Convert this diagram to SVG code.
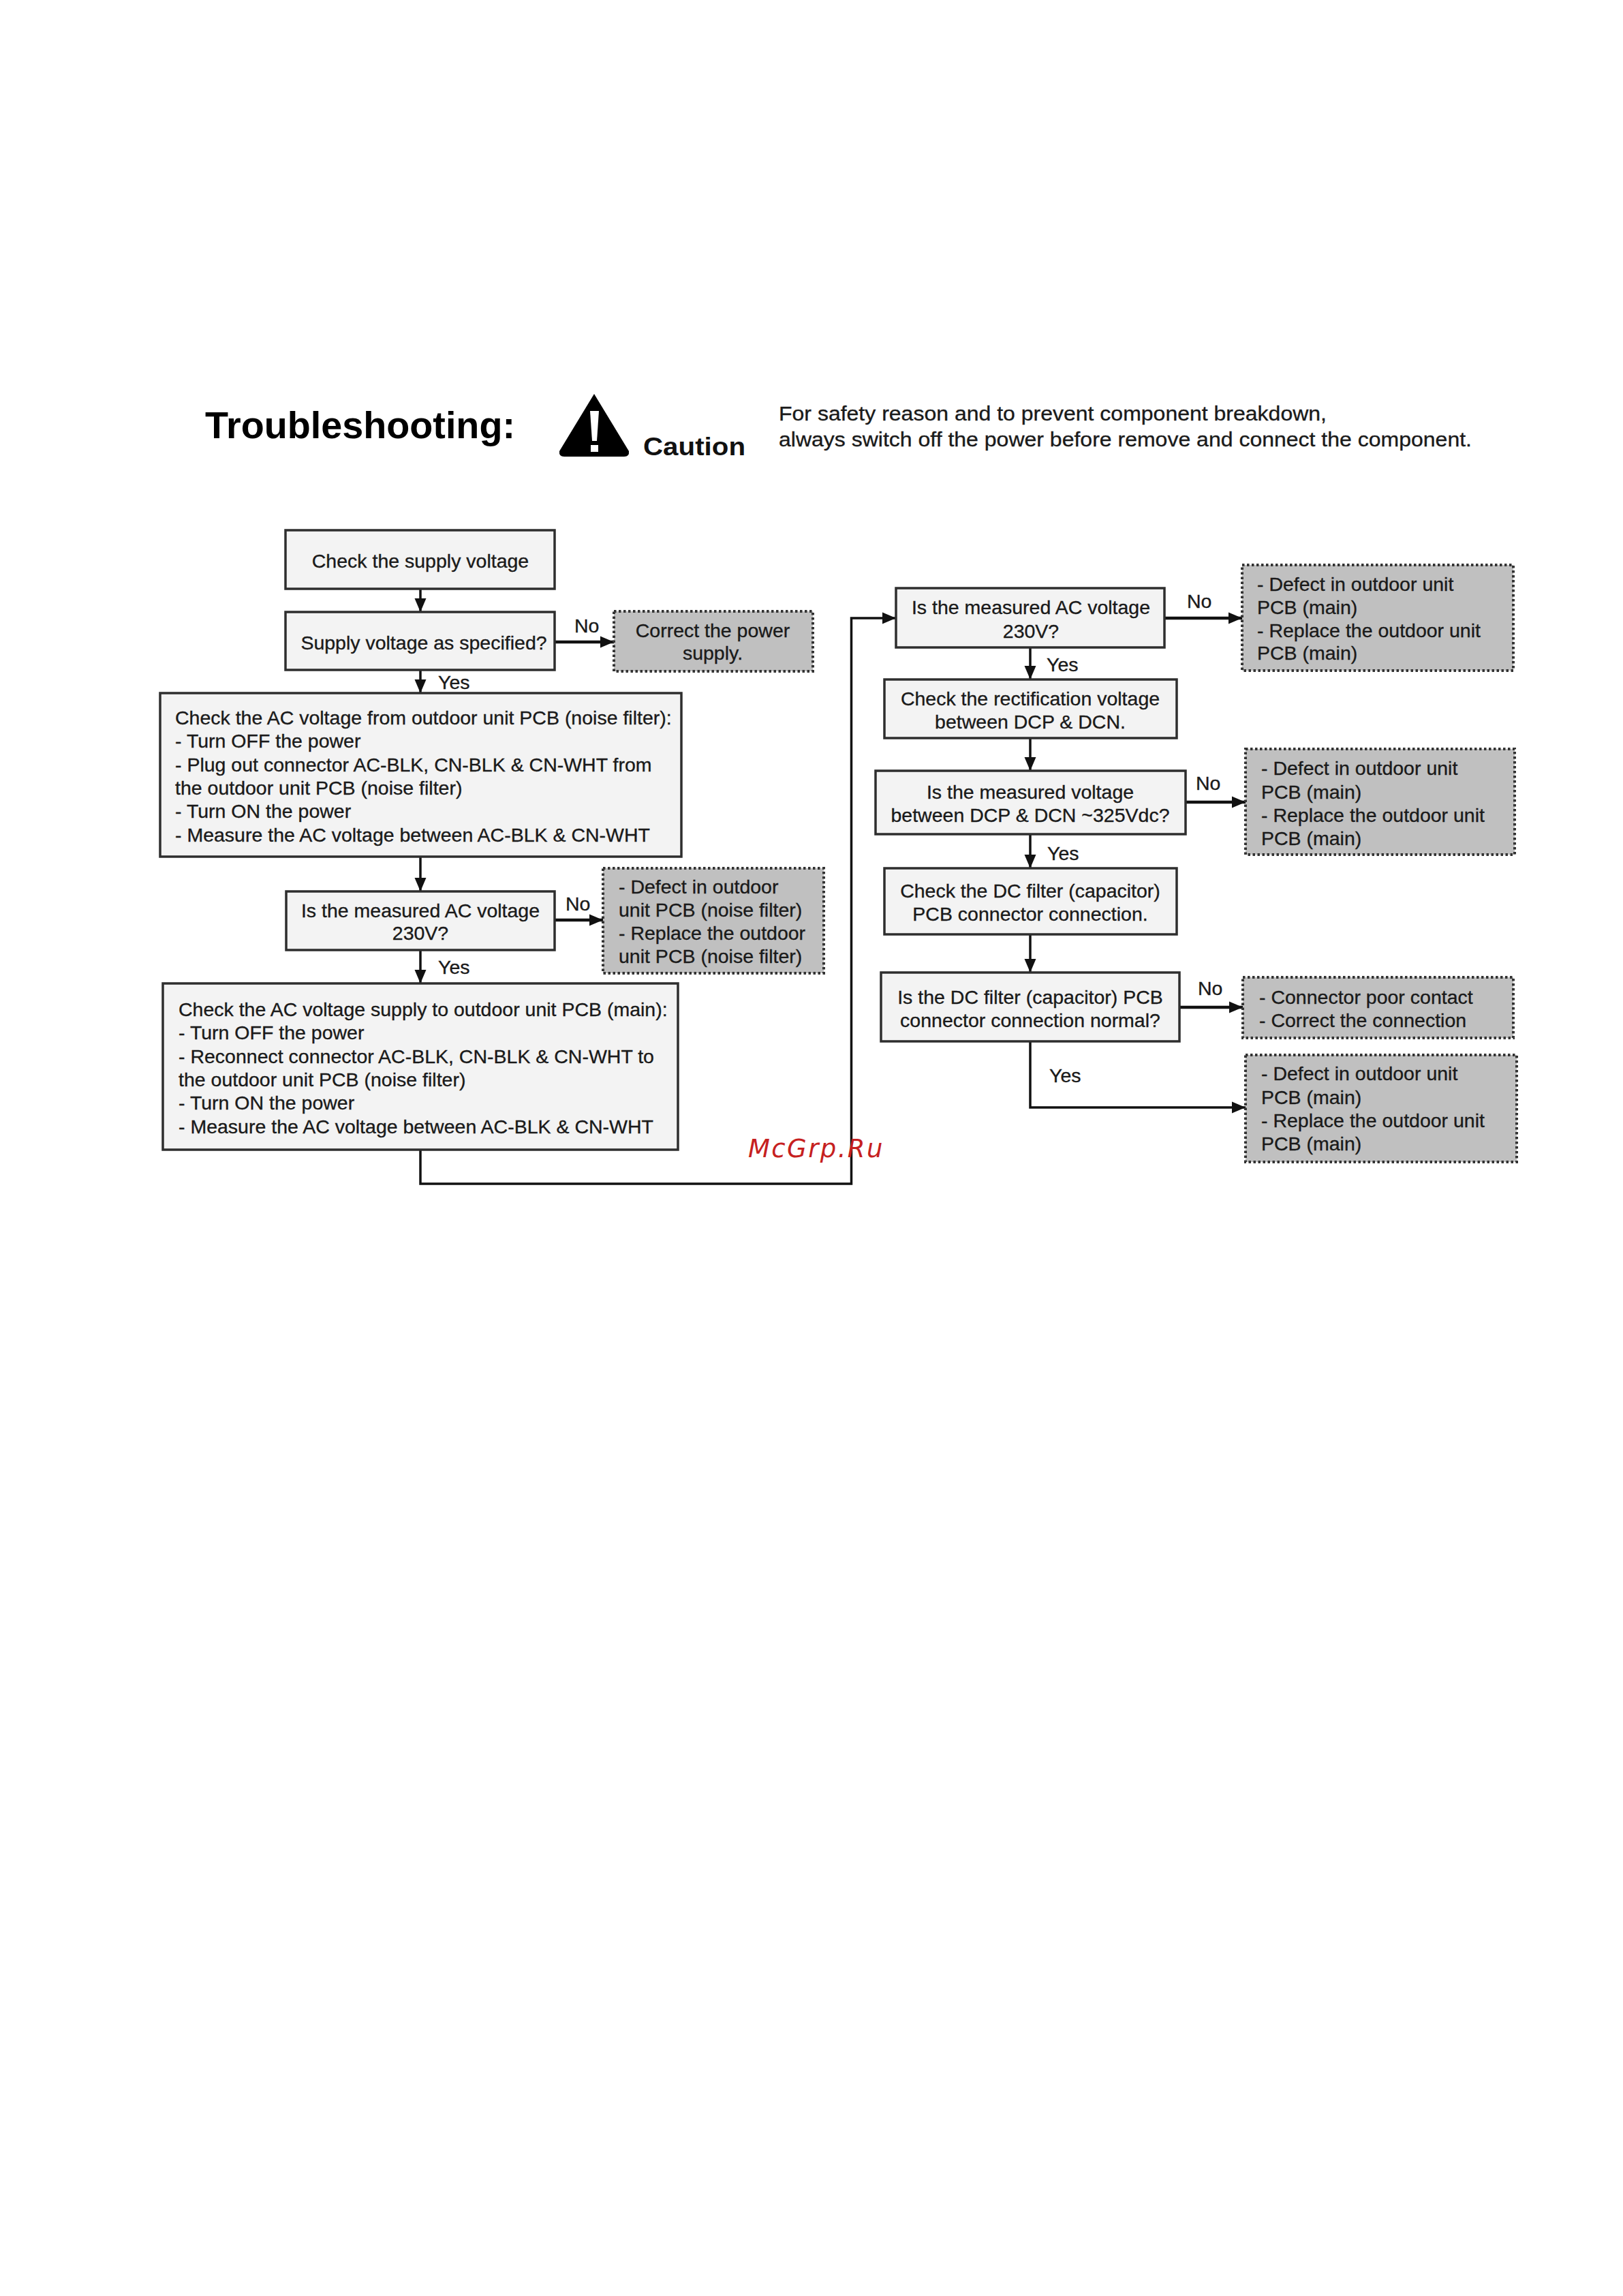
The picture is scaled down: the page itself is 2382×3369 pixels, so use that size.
<svg xmlns="http://www.w3.org/2000/svg" width="2382" height="3369" viewBox="0 0 2382 3369">
<style>
text{font-family:"Liberation Sans",Arial,sans-serif;font-size:28.5px;fill:#1a1a1a;stroke:#1a1a1a;stroke-width:.35}
.c{text-anchor:middle}
.box{fill:#f3f3f3;stroke:#2e2e2e;stroke-width:3.5}
.end{fill:#c0c0c0;stroke:#333;stroke-width:4;stroke-dasharray:3.5 3.5}
.conn{fill:none;stroke:#111;stroke-width:3.5}
.h{stroke-width:4.5}
text.title{font-size:56px;font-weight:bold;fill:#000;stroke:none}
text.caution{font-size:36px;font-weight:bold;fill:#111;stroke:none}
text.note{font-size:30px}
text.wm{font-family:"DejaVu Sans",sans-serif;font-style:italic;font-size:37px;fill:#c62020;stroke:none;letter-spacing:2.4px}
</style>
<defs>
<marker id="a" markerUnits="userSpaceOnUse" markerWidth="22" markerHeight="20" refX="20" refY="10" orient="auto">
<path d="M0 1.5L20 10L0 18.5z" fill="#111"/>
</marker>
</defs>
<rect width="2382" height="3369" fill="#fff"/>
<g id="header">
<text class="title" x="301" y="643" textLength="455" lengthAdjust="spacingAndGlyphs">Troubleshooting:</text>
<path d="M872 578L923 662Q924 670 916 670H828Q820 670 821 662z" fill="#000"/>
<path d="M866 603H879L876 647H869z" fill="#fff"/>
<rect x="867" y="653" width="11" height="10" fill="#fff"/>
<text class="caution" x="944" y="668" textLength="150" lengthAdjust="spacingAndGlyphs">Caution</text>
<text class="note" x="1143" y="617" textLength="804" lengthAdjust="spacingAndGlyphs">For safety reason and to prevent component breakdown,</text>
<text class="note" x="1143" y="655" textLength="1017" lengthAdjust="spacingAndGlyphs">always switch off the power before remove and connect the component.</text>
</g>
<g id="connectors">
<path class="conn" marker-end="url(#a)" d="M617 864V898"/>
<path class="conn h" marker-end="url(#a)" d="M814 942H901"/>
<path class="conn" marker-end="url(#a)" d="M617 983V1017"/>
<path class="conn" marker-end="url(#a)" d="M617 1257V1308"/>
<path class="conn h" marker-end="url(#a)" d="M814 1350H885"/>
<path class="conn" marker-end="url(#a)" d="M617 1394V1443"/>
<path class="conn" marker-end="url(#a)" d="M617 1687V1737H1249.5V907H1315"/>
<path class="conn h" marker-end="url(#a)" d="M1709 907H1823"/>
<path class="conn" marker-end="url(#a)" d="M1512 950V997"/>
<path class="conn" marker-end="url(#a)" d="M1512 1083V1131"/>
<path class="conn h" marker-end="url(#a)" d="M1740 1177H1828"/>
<path class="conn" marker-end="url(#a)" d="M1512 1224V1274"/>
<path class="conn" marker-end="url(#a)" d="M1512 1371V1427"/>
<path class="conn h" marker-end="url(#a)" d="M1731 1478H1824"/>
<path class="conn" marker-end="url(#a)" d="M1512 1528V1625H1828"/>
<text x="843" y="928">No</text>
<text x="643" y="1011">Yes</text>
<text x="830" y="1336">No</text>
<text x="643" y="1429">Yes</text>
<text x="1742" y="892">No</text>
<text x="1536" y="985">Yes</text>
<text x="1755" y="1159">No</text>
<text x="1537" y="1262">Yes</text>
<text x="1758" y="1460">No</text>
<text x="1540" y="1588">Yes</text>
</g>
<g id="n1"><rect class="box" x="419" y="778" width="395" height="86"/>
<text class="c" x="617" y="833">Check the supply voltage</text></g>
<g id="n2"><rect class="box" x="419" y="898" width="395" height="85"/>
<text class="c" x="622" y="953">Supply voltage as specified?</text></g>
<g id="n3"><rect class="end" x="901" y="897" width="292" height="88"/>
<text class="c" x="1046" y="935">Correct the power</text>
<text class="c" x="1046" y="968">supply.</text></g>
<g id="n4"><rect class="box" x="235" y="1017" width="765" height="240"/>
<text x="257" y="1063">Check the AC voltage from outdoor unit PCB (noise filter):</text>
<text x="257" y="1097">- Turn OFF the power</text>
<text x="257" y="1132">- Plug out connector AC-BLK, CN-BLK &amp; CN-WHT from</text>
<text x="257" y="1166">the outdoor unit PCB (noise filter)</text>
<text x="257" y="1200">- Turn ON the power</text>
<text x="257" y="1235">- Measure the AC voltage between AC-BLK &amp; CN-WHT</text></g>
<g id="n5"><rect class="box" x="420" y="1308" width="394" height="86"/>
<text class="c" x="617" y="1346">Is the measured AC voltage</text>
<text class="c" x="617" y="1379">230V?</text></g>
<g id="n6"><rect class="end" x="885" y="1274" width="324" height="154"/>
<text x="908" y="1311">- Defect in outdoor</text>
<text x="908" y="1345">unit PCB (noise filter)</text>
<text x="908" y="1379">- Replace the outdoor</text>
<text x="908" y="1413">unit PCB (noise filter)</text></g>
<g id="n7"><rect class="box" x="239" y="1443" width="756" height="244"/>
<text x="262" y="1491">Check the AC voltage supply to outdoor unit PCB (main):</text>
<text x="262" y="1525">- Turn OFF the power</text>
<text x="262" y="1560">- Reconnect connector AC-BLK, CN-BLK &amp; CN-WHT to</text>
<text x="262" y="1594">the outdoor unit PCB (noise filter)</text>
<text x="262" y="1628">- Turn ON the power</text>
<text x="262" y="1663">- Measure the AC voltage between AC-BLK &amp; CN-WHT</text></g>
<g id="n8"><rect class="box" x="1315" y="863" width="394" height="87"/>
<text class="c" x="1513" y="901">Is the measured AC voltage</text>
<text class="c" x="1513" y="936">230V?</text></g>
<g id="n9"><rect class="end" x="1823" y="829" width="398" height="155"/>
<text x="1845" y="867">- Defect in outdoor unit</text>
<text x="1845" y="901">PCB (main)</text>
<text x="1845" y="935">- Replace the outdoor unit</text>
<text x="1845" y="968">PCB (main)</text></g>
<g id="n10"><rect class="box" x="1298" y="997" width="429" height="86"/>
<text class="c" x="1512" y="1035">Check the rectification voltage</text>
<text class="c" x="1512" y="1069">between DCP &amp; DCN.</text></g>
<g id="n11"><rect class="box" x="1285" y="1131" width="455" height="93"/>
<text class="c" x="1512" y="1172">Is the measured voltage</text>
<text class="c" x="1512" y="1206">between DCP &amp; DCN ~325Vdc?</text></g>
<g id="n12"><rect class="end" x="1828" y="1099" width="395" height="155"/>
<text x="1851" y="1137">- Defect in outdoor unit</text>
<text x="1851" y="1172">PCB (main)</text>
<text x="1851" y="1206">- Replace the outdoor unit</text>
<text x="1851" y="1240">PCB (main)</text></g>
<g id="n13"><rect class="box" x="1298" y="1274" width="429" height="97"/>
<text class="c" x="1512" y="1317">Check the DC filter (capacitor)</text>
<text class="c" x="1512" y="1351">PCB connector connection.</text></g>
<g id="n14"><rect class="box" x="1293" y="1427" width="438" height="101"/>
<text class="c" x="1512" y="1473">Is the DC filter (capacitor) PCB</text>
<text class="c" x="1512" y="1507">connector connection normal?</text></g>
<g id="n15"><rect class="end" x="1824" y="1434" width="397" height="89"/>
<text x="1848" y="1473">- Connector poor contact</text>
<text x="1848" y="1507">- Correct the connection</text></g>
<g id="n16"><rect class="end" x="1828" y="1548" width="398" height="157"/>
<text x="1851" y="1585">- Defect in outdoor unit</text>
<text x="1851" y="1620">PCB (main)</text>
<text x="1851" y="1654">- Replace the outdoor unit</text>
<text x="1851" y="1688">PCB (main)</text></g>
<text class="wm" x="1098" y="1698">McGrp.Ru</text>
</svg>
